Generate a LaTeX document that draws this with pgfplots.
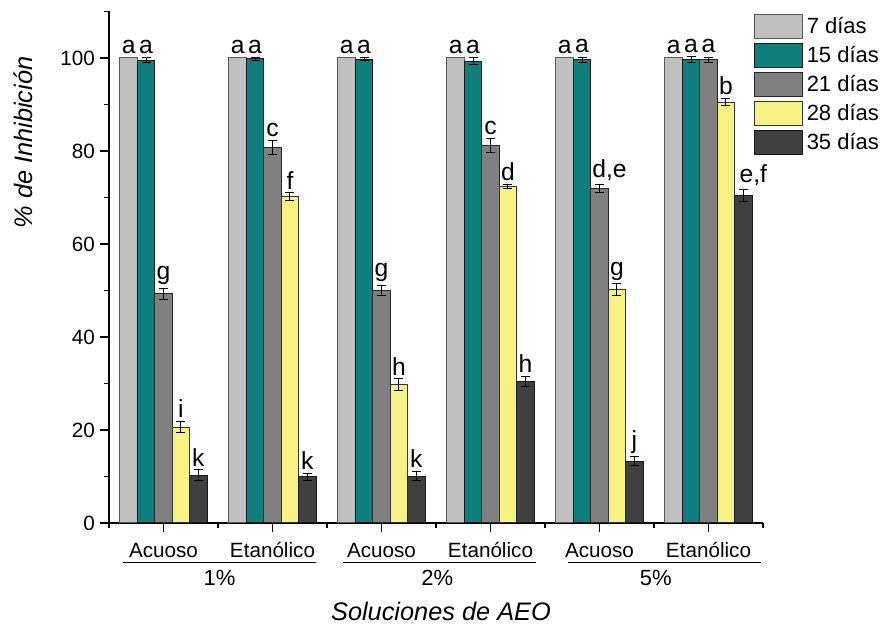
\documentclass[border=0pt]{standalone}
\usepackage{fontspec}
\setmainfont{Liberation Sans}
\usepackage{pgfplots}
\pgfplotsset{compat=1.18}
\usepackage{pgfplotstable}

\definecolor{c7}{HTML}{C0C0C0}
\definecolor{c15}{HTML}{0E7F7C}
\definecolor{c21}{HTML}{808080}
\definecolor{c28}{HTML}{F7F284}
\definecolor{c35}{HTML}{404040}

% x: 0 = 1% Acuoso, 1 = 1% Etanólico, 2 = 2% Acuoso,
%    3 = 2% Etanólico, 4 = 5% Acuoso, 5 = 5% Etanólico
% y = % inhibition, e = error, lab = significance letter, dx = label shift (pt)
\pgfplotstableread{
x y e lab dx
0 100 0 a 0
1 100 0 a 0
2 100 0 a 0
3 100 0 a 0
4 100 0 a 0
5 100 0 a 0
}\dsiete
\pgfplotstableread{
x y e lab dx
0 99.5 0.5 a 0
1 99.8 0.3 a 0
2 99.7 0.3 a 0
3 99.3 0.8 a 0
4 99.6 0.6 a 0
5 99.7 0.6 a 0
}\dquince
\pgfplotstableread{
x y e lab dx
0 49.3 1.2 g 0
1 80.7 1.5 c 0
2 50.0 1.0 g 0
3 81.2 1.5 c 0
4 71.9 0.9 d,e 7.5
5 99.6 0.6 a 0
}\dveintiuno
\pgfplotstableread{
x y e lab dx
0 20.6 1.2 i 0
1 70.2 0.8 f 0
2 29.7 1.3 h 0
3 72.3 0.4 d 0
4 50.2 1.2 g 0
5 90.5 0.7 b 0
}\dveintiocho
\pgfplotstableread{
x y e lab dx
0 10.3 1.1 k 0
1 9.9 0.8 k 0
2 10.1 1.0 k 0
3 30.5 1.1 h 0
4 13.3 0.9 j 0
5 70.5 1.3 e,f 7.5
}\dtreintaycinco

\begin{document}
\begin{tikzpicture}
\begin{axis}[
  x=81.75pt, y=3.4875pt,
  xmin=-0.5, xmax=5.5, ymin=0, ymax=110,
  clip=false,
  axis lines=left,
  axis line style={-, line width=1.5pt, black},
  ybar=0pt, bar width=0.16,
  tick align=outside,
  major tick length=7pt, minor tick length=3.75pt,
  tick style={line width=1.2pt, black},
  xtick={0,...,5},
  xticklabels={Acuoso, Etanólico, Acuoso, Etanólico, Acuoso, Etanólico},
  minor xtick={-0.5,0.5,...,5.5},
  ytick={0,20,...,100},
  minor ytick={10,30,...,110},
  /pgf/number format/assume math mode=true,
  tick label style={font=\fontsize{15.5}{18}\selectfont},
  xticklabel style={anchor=base, yshift=-19pt},
  ylabel={\% de Inhibición},
  ylabel style={font=\fontsize{19}{22}\selectfont\itshape,
    at={(axis description cs:-0.1315,0.744)}, anchor=center, rotate=0},
  xlabel={Soluciones de AEO},
  xlabel style={font=\fontsize{19}{22}\selectfont\itshape,
    at={(axis description cs:0.5076,-0.1738)}, anchor=center},
  nodes near coords,
  point meta=explicit symbolic,
  visualization depends on={\thisrow{e} \as \errv},
  visualization depends on={\thisrow{dx} \as \dxv},
  nodes near coords style={anchor=south, inner sep=0pt, black,
    font=\fontsize{18.5}{22}\selectfont,
    yshift=\errv*3.4875pt+2.5pt, xshift=\dxv pt},
  error bars/error bar style={line width=0.75pt, black, solid},
  error bars/error mark options={rotate=90, black, mark size=3.4pt, line width=0.75pt},
  every axis plot post/.append style={
    legend image code/.code={
      \draw[#1] (0pt,-9pt) rectangle (36pt,9pt);
      \path[draw=none, fill=none] (39pt,0pt) circle (0pt);}},
  legend style={draw=none, fill=none, inner sep=0pt,
    at={(0.9862,0.996)}, anchor=north west,
    row sep=3pt,
    font=\fontsize{16.5}{19}\selectfont,
    nodes={inner sep=0pt, anchor=west}},
  legend cell align=left,
]
\addplot[fill=c7, draw=black!65, line width=0.75pt]
  table[x=x, y=y, meta=lab] {\dsiete};
\addplot[fill=c15, draw=black!90, line width=0.75pt,
  error bars/.cd, y dir=both, y explicit]
  table[x=x, y=y, y error=e, meta=lab] {\dquince};
\addplot[fill=c21, draw=black!85, line width=0.75pt,
  error bars/.cd, y dir=both, y explicit]
  table[x=x, y=y, y error=e, meta=lab] {\dveintiuno};
\addplot[fill=c28, draw=black!80, line width=0.75pt,
  error bars/.cd, y dir=both, y explicit]
  table[x=x, y=y, y error=e, meta=lab] {\dveintiocho};
\addplot[fill=c35, draw=black!90, line width=0.75pt,
  error bars/.cd, y dir=both, y explicit]
  table[x=x, y=y, y error=e, meta=lab] {\dtreintaycinco};
\legend{7 días, 15 días, 21 días, 28 días, 35 días}

% concentration groups under the extract labels
\draw[line width=0.9pt] ([yshift=-29.5pt]axis cs:-0.372,0) -- ([yshift=-29.5pt]axis cs:1.399,0);
\draw[line width=0.9pt] ([yshift=-29.5pt]axis cs:1.644,0) -- ([yshift=-29.5pt]axis cs:3.415,0);
\draw[line width=0.9pt] ([yshift=-29.5pt]axis cs:3.708,0) -- ([yshift=-29.5pt]axis cs:5.479,0);
\node[anchor=base, font=\fontsize{16.5}{19}\selectfont] at ([yshift=-47.25pt]axis cs:0.514,0) {1\%};
\node[anchor=base, font=\fontsize{16.5}{19}\selectfont] at ([yshift=-47.25pt]axis cs:2.512,0) {2\%};
\node[anchor=base, font=\fontsize{16.5}{19}\selectfont] at ([yshift=-47.25pt]axis cs:4.516,0) {5\%};

\coordinate (O) at (rel axis cs:0,0);
\end{axis}
\pgfresetboundingbox
\path ([xshift=-81.75pt, yshift=-80.25pt]O) rectangle ([xshift=579.75pt, yshift=392.25pt]O);
\end{tikzpicture}
\end{document}
